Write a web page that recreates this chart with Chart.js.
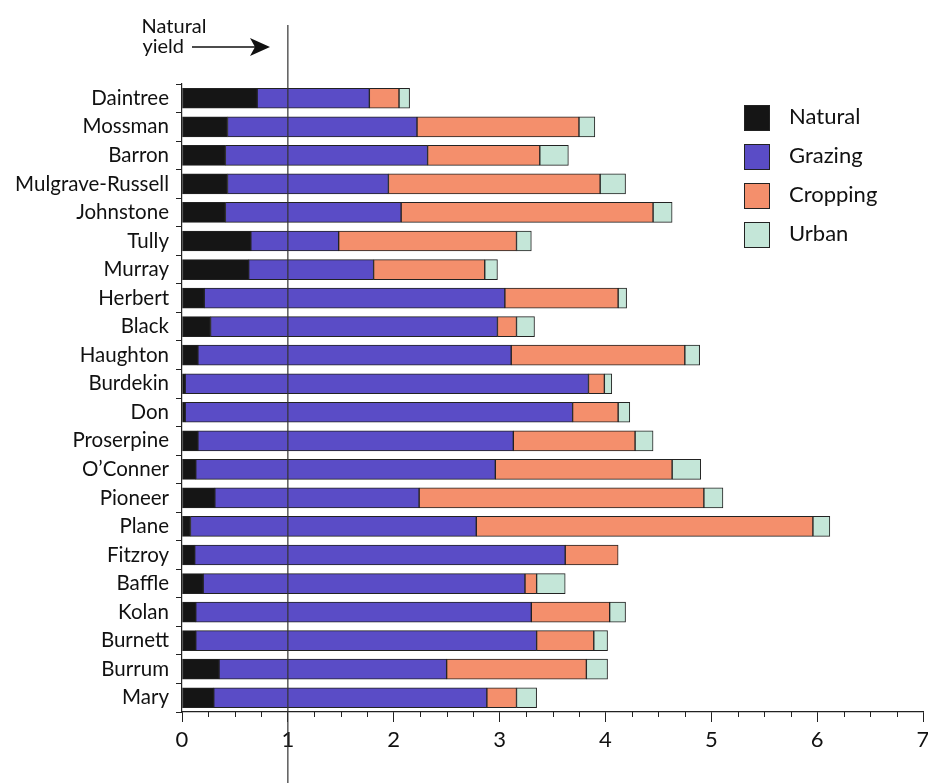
<!DOCTYPE html>
<html>
<head>
<meta charset="utf-8">
<script src="https://cdn.jsdelivr.net/npm/chart.js@4/dist/chart.umd.min.js"></script>
<style>
  html, body { margin: 0; padding: 0; background: #fff; }
  #wrap { width: 928px; height: 783px; position: relative; }
</style>
</head>
<body>
<div id="wrap"><canvas id="chartCanvas"></canvas></div>
<script>
// River basins, top to bottom
const basins = ['Daintree', 'Mossman', 'Barron', 'Mulgrave-Russell', 'Johnstone', 'Tully', 'Murray',
    'Herbert', 'Black', 'Haughton', 'Burdekin', 'Don', 'Proserpine', 'O\u2019Conner', 'Pioneer',
    'Plane', 'Fitzroy', 'Baffle', 'Kolan', 'Burnett', 'Burrum', 'Mary'];

// Contribution by land use (multiple of natural yield)
const natural  = [0.71, 0.43, 0.41, 0.43, 0.41, 0.65, 0.63, 0.21, 0.27, 0.15, 0.03, 0.03, 0.15, 0.13, 0.31, 0.08, 0.12, 0.20, 0.13, 0.13, 0.35, 0.30];
const grazing  = [1.06, 1.79, 1.91, 1.52, 1.66, 0.83, 1.18, 2.84, 2.71, 2.96, 3.81, 3.66, 2.98, 2.83, 1.93, 2.70, 3.50, 3.04, 3.17, 3.22, 2.15, 2.58];
const cropping = [0.28, 1.53, 1.06, 2.00, 2.38, 1.68, 1.05, 1.07, 0.18, 1.64, 0.15, 0.43, 1.15, 1.67, 2.69, 3.18, 0.50, 0.11, 0.74, 0.54, 1.32, 0.28];
const urban    = [0.10, 0.15, 0.27, 0.24, 0.18, 0.14, 0.12, 0.08, 0.17, 0.14, 0.07, 0.11, 0.17, 0.27, 0.18, 0.16, 0.00, 0.27, 0.15, 0.13, 0.20, 0.19];

const minorStep = 0.25;
const naturalYield = 1;

const FONT = 'Lato, "Open Sans", sans-serif';

const seriesNames = ['Natural', 'Grazing', 'Cropping', 'Urban'];
const seriesColors = ['#151515', '#5a4cc6', '#f48f6c', '#c4e6d8'];

// Legend, minor ticks, the x = 1 reference line and its note
const overlayPlugin = {
    id: 'overlay',
    afterDatasetsDraw(chart) {
        const ctx = chart.ctx;
        const xs = chart.scales.x;
        const x1 = xs.getPixelForValue(naturalYield);
        ctx.save();

        // minor ticks on the x axis
        ctx.strokeStyle = '#222';
        ctx.lineWidth = 1;
        ctx.beginPath();
        for (let v = minorStep; v < xs.max; v += minorStep) {
            if (Math.abs(v - Math.round(v)) < 1e-6) continue;
            const px = Math.round(xs.getPixelForValue(v)) + 0.5;
            ctx.moveTo(px, xs.top);
            ctx.lineTo(px, xs.top + 5);
        }
        ctx.stroke();

        ctx.strokeStyle = '#333';
        ctx.lineWidth = 1.2;
        ctx.beginPath();
        ctx.moveTo(x1, 25);
        ctx.lineTo(x1, 783);
        ctx.stroke();

        // "Natural yield" note with arrow
        ctx.fillStyle = '#111';
        ctx.font = '20px ' + FONT;
        ctx.textAlign = 'center';
        ctx.textBaseline = 'middle';
        ctx.fillText('Natural', 174, 27);
        ctx.textAlign = 'right';
        ctx.fillText('yield', 184, 47);
        ctx.strokeStyle = '#111';
        ctx.lineWidth = 1.5;
        ctx.beginPath();
        ctx.moveTo(192, 47);
        ctx.lineTo(258, 47);
        ctx.stroke();
        ctx.beginPath();
        ctx.moveTo(270, 47);
        ctx.lineTo(250, 38);
        ctx.lineTo(255, 47);
        ctx.lineTo(250, 56);
        ctx.closePath();
        ctx.fill();

        // legend
        ctx.font = '22px ' + FONT;
        ctx.textAlign = 'left';
        seriesNames.forEach((name, i) => {
            const y = 105 + i * 39;
            ctx.fillStyle = seriesColors[i];
            ctx.fillRect(744, y, 26, 26);
            ctx.strokeStyle = '#222';
            ctx.lineWidth = 1;
            ctx.strokeRect(744.5, y + 0.5, 25, 25);
            ctx.fillStyle = '#111';
            ctx.fillText(name, 789, y + 12);
        });
        ctx.restore();
    }
};

const values = [natural, grazing, cropping, urban];
const datasets = seriesNames.map((name, i) => ({
    label: name,
    data: values[i],
    backgroundColor: seriesColors[i],
    borderColor: '#222',
    borderWidth: 1,
    borderSkipped: false,
    barThickness: 20
}));

const ctx = document.getElementById('chartCanvas').getContext('2d');
new Chart(ctx, {
    type: 'bar',
    data: { labels: basins, datasets: datasets },
    options: {
        indexAxis: 'y',
        responsive: true,
        maintainAspectRatio: false,
        animation: false,
        layout: { padding: { top: 84, right: 5, left: 0, bottom: 0 } },
        plugins: {
            legend: { display: false },
            tooltip: { enabled: false }
        },
        scales: {
            x: {
                stacked: true,
                min: 0,
                max: 7,
                afterFit: s => { s.height = 71; s.paddingLeft = 0; s.paddingRight = 0; },
                ticks: {
                    stepSize: 1,
                    autoSkip: false,
                    maxRotation: 0,
                    padding: 5,
                    color: '#111',
                    font: { family: FONT, size: 22 }
                },
                grid: {
                    drawOnChartArea: false,
                    tickLength: 10,
                    tickColor: '#222',
                    tickWidth: 1
                },
                border: { color: '#222', width: 1.2 }
            },
            y: {
                stacked: true,
                afterFit: s => { s.width = 182; },
                ticks: {
                    padding: 7,
                    color: '#111',
                    font: { family: FONT, size: 20.5 }
                },
                grid: {
                    offset: true,
                    drawOnChartArea: false,
                    tickLength: 6,
                    tickColor: '#222'
                },
                border: { color: '#222', width: 1.2 }
            }
        }
    },
    plugins: [overlayPlugin]
});
</script>
</body>
</html>
